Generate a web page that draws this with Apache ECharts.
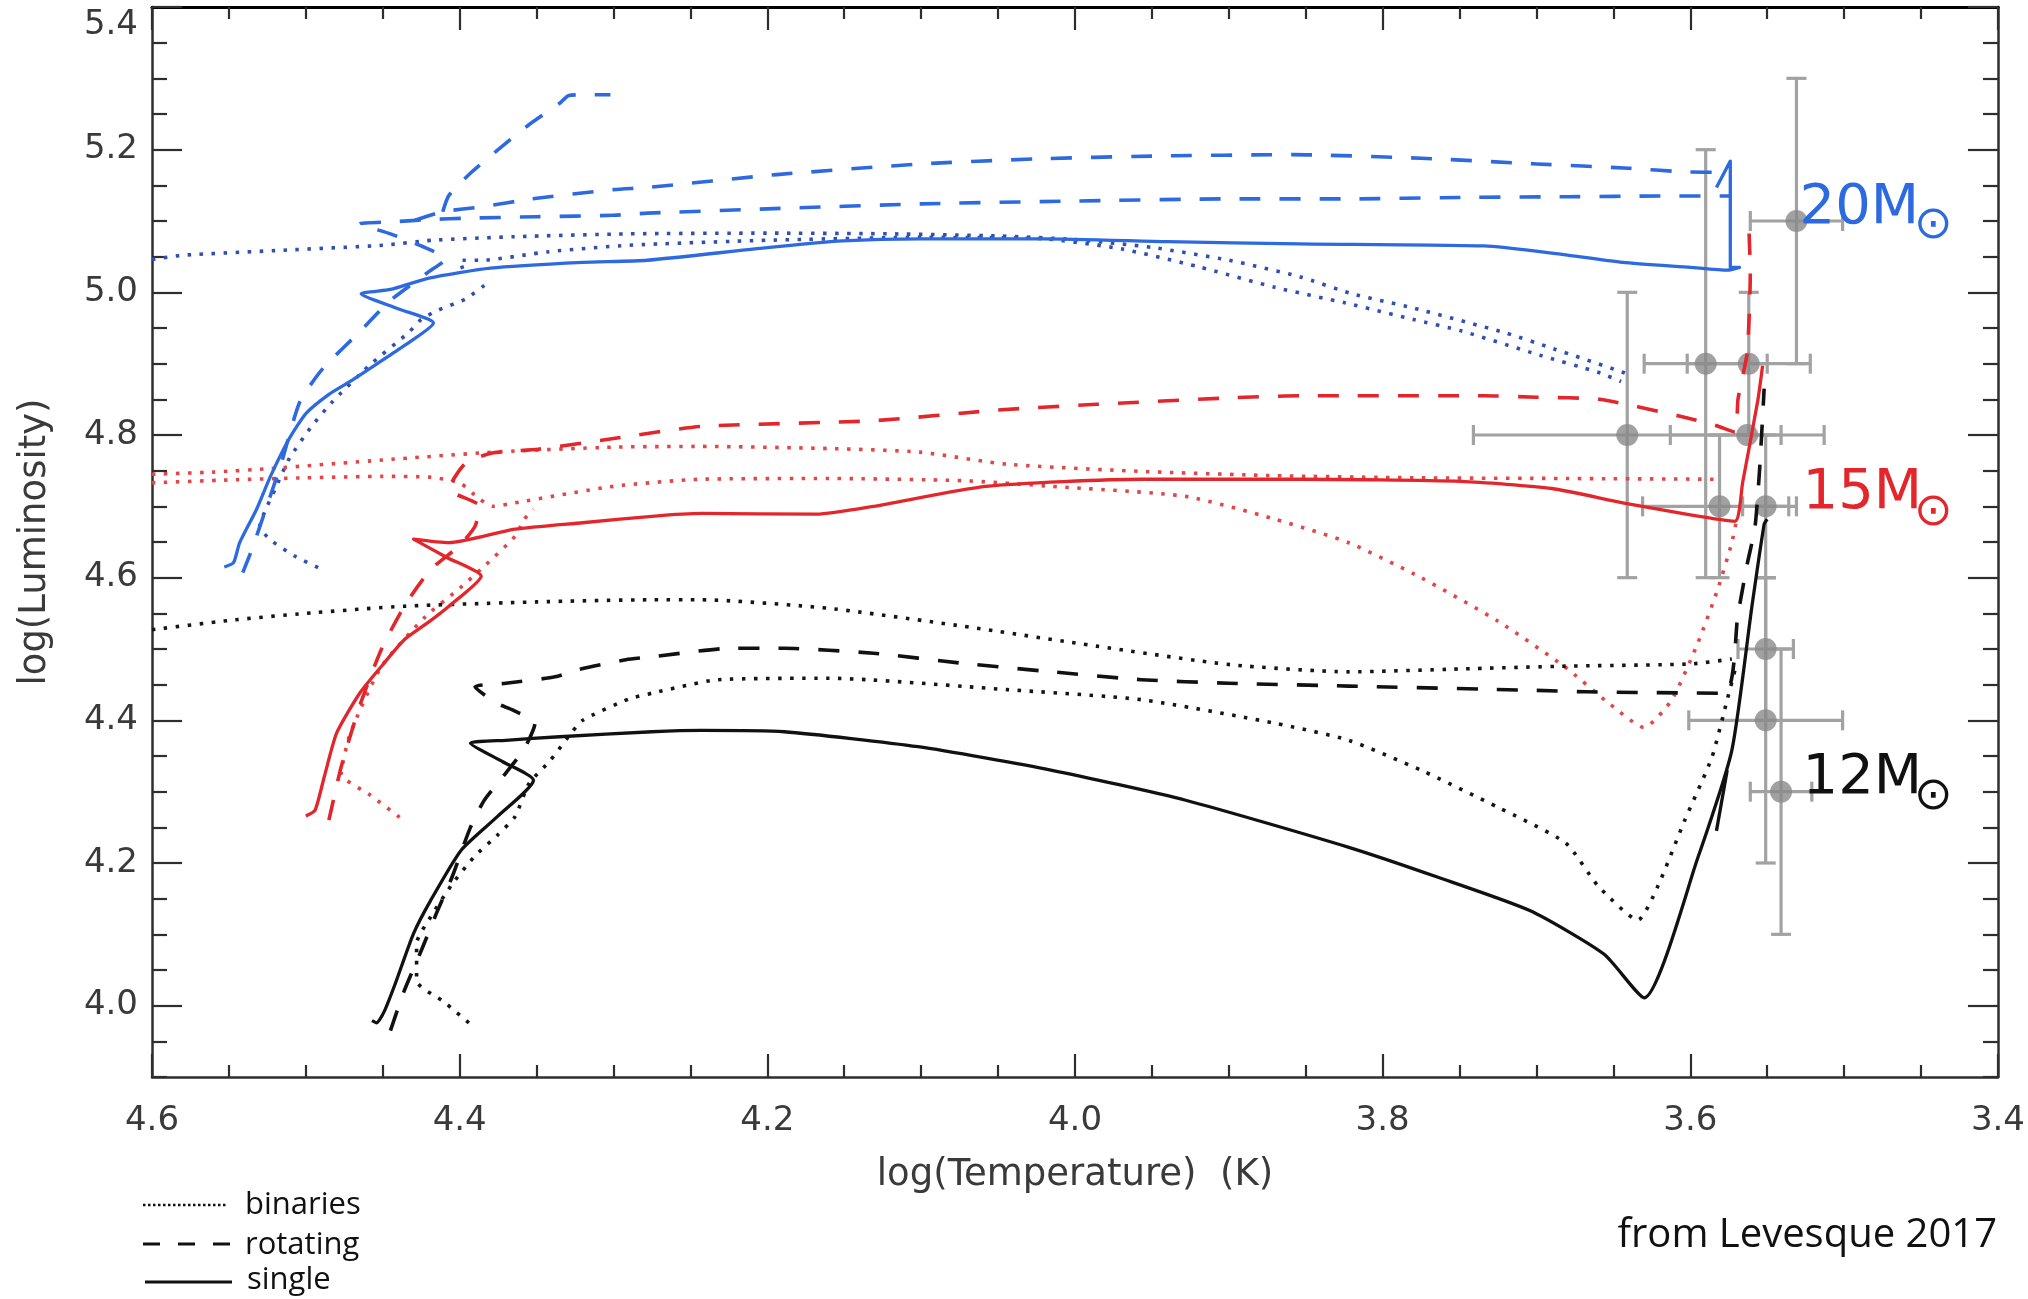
<!DOCTYPE html>
<html>
<head>
<meta charset="utf-8">
<title>HR diagram – 12, 15, 20 solar mass tracks</title>
<script src="https://cdn.jsdelivr.net/npm/echarts@6/dist/echarts.min.js"></script>
<style>
  html, body { margin: 0; padding: 0; background: #ffffff; }
  #chart { width: 2028px; height: 1299px; }
</style>
</head>
<body>
<div id="chart"></div>
<script>
// ---------- axis ticks ----------
const xMajorTicks = [3.4, 3.6, 3.8, 4.0, 4.2, 4.4, 4.6];
const yMajorTicks = [4.0, 4.2, 4.4, 4.6, 4.8, 5.0, 5.2, 5.4];

// ---------- evolutionary tracks: [log T, log L] ----------
// 20 Msun
const single20 = [[4.553,4.615],[4.547,4.621],[4.543,4.649],[4.532,4.696],[4.523,4.742],[4.511,4.794],[4.500,4.830],[4.485,4.857],[4.472,4.874],[4.455,4.898],[4.439,4.921],[4.417,4.957],[4.440,4.977],[4.464,4.998],[4.445,5.004],[4.420,5.020],[4.380,5.034],[4.320,5.042],[4.278,5.045],[4.203,5.062],[4.151,5.072],[4.100,5.075],[4.020,5.075],[3.940,5.071],[3.854,5.068],[3.734,5.065],[3.690,5.055],[3.644,5.042],[3.600,5.035],[3.576,5.031],[3.568,5.035],[3.574,5.035],[3.574,5.184],[3.583,5.147]];
const rotating20a = [[4.541,4.607],[4.535,4.640],[4.527,4.690],[4.516,4.760],[4.504,4.846],[4.489,4.893],[4.463,4.949],[4.446,4.987],[4.420,5.029],[4.409,5.047],[4.425,5.065],[4.445,5.082],[4.465,5.096],[4.442,5.099],[4.420,5.102],[4.394,5.104],[4.350,5.106],[4.300,5.108],[4.278,5.111],[4.200,5.117],[4.100,5.124],[4.000,5.128],[3.900,5.131],[3.822,5.131],[3.750,5.133],[3.680,5.134],[3.620,5.135],[3.574,5.135]];
const rotating20b = [[4.429,5.101],[4.411,5.113],[4.385,5.120],[4.353,5.131],[4.300,5.144],[4.278,5.147],[4.194,5.165],[4.100,5.180],[4.026,5.187],[3.950,5.191],[3.858,5.193],[3.775,5.188],[3.700,5.180],[3.640,5.174],[3.605,5.169],[3.574,5.168]];
const rotating20c = [[4.411,5.113],[4.407,5.136],[4.392,5.169],[4.375,5.200],[4.355,5.235],[4.335,5.265],[4.329,5.276],[4.318,5.277],[4.302,5.277]];
const binary20ms = [[4.492,4.614],[4.507,4.630],[4.523,4.653],[4.530,4.672],[4.526,4.696],[4.520,4.724],[4.511,4.766],[4.497,4.810],[4.483,4.846],[4.459,4.897],[4.433,4.944],[4.425,4.962],[4.414,4.975],[4.396,4.991],[4.382,5.013]];
const binary20a = [[4.600,5.046],[4.580,5.052],[4.515,5.059],[4.450,5.066],[4.418,5.073],[4.364,5.078],[4.290,5.082],[4.200,5.083],[4.120,5.082],[4.050,5.079],[4.000,5.074],[3.950,5.063],[3.900,5.045],[3.854,5.022],[3.820,4.998],[3.780,4.978],[3.720,4.943],[3.689,4.921],[3.644,4.888],[3.638,4.882]];
const binary20b = [[4.398,5.033],[4.400,5.045],[4.386,5.045],[4.342,5.057],[4.290,5.066],[4.200,5.073],[4.100,5.077],[4.020,5.075],[3.970,5.061],[3.920,5.036],[3.870,5.007],[3.824,4.985],[3.780,4.962],[3.749,4.946],[3.698,4.912],[3.660,4.888],[3.645,4.875]];

// 15 Msun
const single15 = [[4.500,4.266],[4.494,4.274],[4.488,4.321],[4.480,4.382],[4.465,4.438],[4.450,4.478],[4.436,4.513],[4.420,4.538],[4.407,4.560],[4.386,4.602],[4.408,4.628],[4.430,4.654],[4.407,4.649],[4.364,4.668],[4.320,4.677],[4.275,4.686],[4.243,4.690],[4.168,4.689],[4.131,4.700],[4.058,4.728],[3.957,4.738],[3.854,4.738],[3.749,4.735],[3.690,4.725],[3.644,4.705],[3.600,4.688],[3.571,4.679],[3.566,4.733],[3.556,4.850],[3.553,4.897]];
const rotating15 = [[4.485,4.260],[4.477,4.335],[4.465,4.420],[4.451,4.499],[4.436,4.560],[4.419,4.611],[4.400,4.645],[4.390,4.672],[4.387,4.700],[4.407,4.724],[4.396,4.761],[4.378,4.775],[4.349,4.780],[4.300,4.795],[4.243,4.812],[4.131,4.820],[4.050,4.835],[3.986,4.843],[3.900,4.852],[3.854,4.855],[3.734,4.855],[3.700,4.853],[3.659,4.850],[3.608,4.827],[3.583,4.813],[3.571,4.804],[3.569,4.850],[3.563,4.916],[3.561,5.028],[3.562,5.094]];
const binary15ms = [[4.439,4.264],[4.458,4.295],[4.477,4.325],[4.471,4.382],[4.451,4.475],[4.422,4.546],[4.400,4.585],[4.384,4.616],[4.364,4.658],[4.358,4.682],[4.352,4.696]];
const binary15a = [[4.600,4.745],[4.560,4.748],[4.523,4.753],[4.450,4.765],[4.378,4.776],[4.300,4.783],[4.243,4.784],[4.160,4.781],[4.101,4.776],[4.044,4.759],[3.957,4.749],[3.870,4.743],[3.780,4.740],[3.680,4.739],[3.581,4.738]];
const binary15b = [[4.600,4.733],[4.550,4.737],[4.500,4.740],[4.450,4.742],[4.420,4.741],[4.400,4.733],[4.387,4.710],[4.378,4.700],[4.364,4.705],[4.300,4.728],[4.243,4.738],[4.160,4.739],[4.073,4.736],[4.015,4.728],[3.928,4.714],[3.870,4.682],[3.822,4.649],[3.775,4.600],[3.725,4.539],[3.681,4.474],[3.653,4.424],[3.630,4.390],[3.612,4.429],[3.595,4.509],[3.582,4.585],[3.573,4.649],[3.570,4.680]];

// 12 Msun
const single12 = [[4.457,3.979],[4.454,3.976],[4.449,3.992],[4.442,4.030],[4.430,4.101],[4.419,4.147],[4.399,4.218],[4.375,4.266],[4.352,4.316],[4.372,4.342],[4.393,4.368],[4.370,4.372],[4.335,4.377],[4.275,4.384],[4.243,4.386],[4.189,4.384],[4.102,4.363],[4.015,4.330],[3.928,4.288],[3.822,4.222],[3.764,4.180],[3.704,4.133],[3.656,4.072],[3.630,4.011],[3.595,4.208],[3.573,4.358],[3.560,4.559],[3.552,4.675],[3.550,4.682]];
const single12b = [[3.583,4.245],[3.576,4.330]];
const rotating12 = [[4.445,3.965],[4.436,4.021],[4.425,4.077],[4.415,4.130],[4.405,4.180],[4.393,4.250],[4.384,4.288],[4.370,4.326],[4.358,4.360],[4.351,4.396],[4.365,4.414],[4.376,4.424],[4.390,4.447],[4.370,4.452],[4.338,4.461],[4.323,4.471],[4.292,4.485],[4.275,4.489],[4.224,4.501],[4.189,4.501],[4.131,4.494],[4.073,4.480],[4.015,4.468],[3.957,4.457],[3.900,4.452],[3.822,4.448],[3.700,4.442],[3.668,4.440],[3.578,4.438],[3.569,4.549],[3.563,4.619],[3.558,4.670],[3.555,4.750],[3.552,4.865]];
const binary12a = [[4.600,4.527],[4.550,4.540],[4.500,4.550],[4.436,4.560],[4.350,4.566],[4.275,4.569],[4.243,4.569],[4.160,4.557],[4.073,4.532],[3.986,4.504],[3.899,4.478],[3.822,4.468],[3.750,4.472],[3.680,4.476],[3.600,4.479],[3.573,4.486]];
const binary12b = [[4.394,3.976],[4.410,4.005],[4.428,4.035],[4.428,4.087],[4.419,4.124],[4.405,4.170],[4.390,4.210],[4.375,4.240],[4.364,4.265],[4.355,4.311],[4.341,4.344],[4.330,4.375],[4.320,4.400],[4.290,4.430],[4.275,4.438],[4.232,4.457],[4.160,4.459],[4.044,4.443],[3.957,4.429],[3.870,4.396],[3.822,4.372],[3.775,4.330],[3.725,4.278],[3.681,4.228],[3.660,4.168],[3.634,4.120],[3.621,4.168],[3.604,4.258],[3.586,4.348],[3.576,4.429],[3.571,4.470]];

// ---------- observed red supergiants ----------
const obsLogT = [3.531, 3.590, 3.562, 3.641, 3.563, 3.581, 3.551, 3.551, 3.551, 3.541];
const obsLogL = [5.10, 4.90, 4.90, 4.80, 4.80, 4.70, 4.70, 4.50, 4.40, 4.30];
const obsErrT = [0.03, 0.04, 0.04, 0.10, 0.05, 0.05, 0.015, 0.018, 0.05, 0.02];
const obsErrL = [0.20, 0.30, 0.10, 0.20, 0.00, 0.10, 0.10, 0.10, 0.20, 0.20];

// ---------- mass labels ----------
const massLabels = ['20M', '15M', '12M'];
const massLabelT = [3.529, 3.527, 3.527];
const massLabelL = [5.117, 4.718, 4.318];
const sunSymbolT = 3.442;
const sunSymbolL = [5.093, 4.691, 4.292];

// ---------- styling ----------
const BLUE = '#2d6ae0', RED = '#e3262c', BLACK = '#111111';
const BLUE_DOT = '#3050b0', RED_DOT = '#e24646', BLACK_DOT = '#151515';
const massColors = [BLUE, RED, BLACK];
const LINE = {
  single:   { type: 'solid', width: 3.3 },
  rotating: { type: [21, 19], width: 3.6 },
  binaries: { type: [3.5, 8.5], width: 3.6 }
};
const TICK_FONT = 'DejaVu Sans';

function minorTicks(lo, hi, step, majors) {
  const out = [];
  const n = Math.round((hi - lo) / step);
  for (let i = 0; i <= n; i++) {
    const v = Math.round((lo + i * step) * 100) / 100;
    if (!majors.some(m => Math.abs(m - v) < 1e-6)) out.push(v);
  }
  return out;
}
const xMinorTicks = minorTicks(3.4, 4.6, 0.05, xMajorTicks);
const yMinorTicks = minorTicks(3.9, 5.4, 0.05, yMajorTicks);

function track(name, data, color, kind) {
  return {
    name: name, type: 'line', data: data,
    xAxisIndex: 0, yAxisIndex: 0,
    showSymbol: false, symbol: 'none', smooth: 0.2, z: 3, silent: true,
    lineStyle: { color: color, width: LINE[kind].width, type: LINE[kind].type, cap: 'butt', join: 'round' }
  };
}

function xAxisDef(position, ticks, len, isMajor) {
  const withLabels = isMajor && position === 'bottom';
  return {
    type: 'value', min: 3.4, max: 4.6, inverse: true, position: position,
    axisLine: { show: isMajor, onZero: false,
      lineStyle: { color: position === 'top' ? '#000' : '#2e2e2e', width: position === 'top' ? 3.2 : 2.5 } },
    axisTick: { show: true, inside: true, length: len, customValues: ticks,
      lineStyle: { color: '#2e2e2e', width: 2.2 } },
    axisLabel: withLabels ? {
      show: true, customValues: ticks, margin: 27,
      formatter: v => v.toFixed(1),
      fontFamily: TICK_FONT, fontSize: 34, color: '#3a3a3a'
    } : { show: false },
    splitLine: { show: false },
    name: withLabels ? 'log(Temperature)  (K)' : '',
    nameLocation: 'middle', nameGap: 80,
    nameTextStyle: { fontFamily: 'DejaVu Sans', fontSize: 37, color: '#3a3a3a' }
  };
}

function yAxisDef(position, ticks, len, isMajor) {
  const withLabels = isMajor && position === 'left';
  return {
    type: 'value', min: 3.9, max: 5.4, position: position,
    axisLine: { show: isMajor, onZero: false, lineStyle: { color: '#2e2e2e', width: 2.5 } },
    axisTick: { show: true, inside: true, length: len, customValues: ticks,
      lineStyle: { color: '#2e2e2e', width: 2.2 } },
    axisLabel: withLabels ? {
      show: true, customValues: ticks, margin: 14,
      formatter: v => {
        const s = v.toFixed(1);
        return Math.abs(v - 5.4) < 1e-6 ? '{top|' + s + '}' : s;
      },
      rich: { top: { padding: [37, 0, 0, 0], fontFamily: TICK_FONT, fontSize: 34, color: '#3a3a3a' } },
      fontFamily: TICK_FONT, fontSize: 34, color: '#3a3a3a'
    } : { show: false },
    splitLine: { show: false },
    name: withLabels ? 'log(Luminosity)' : '',
    nameLocation: 'middle', nameGap: 98, nameRotate: 90,
    nameTextStyle: { fontFamily: 'DejaVu Sans', fontSize: 37, color: '#3a3a3a' }
  };
}

// error bars drawn through the axes' own coordinate mapping
const obsData = obsLogT.map((t, i) => [t, obsLogL[i], obsErrT[i], obsErrL[i]]);
function renderErrorBar(params, api) {
  const t = api.value(0), l = api.value(1), et = api.value(2), el = api.value(3);
  const cap = 10;
  const st = { stroke: '#a2a2a2', lineWidth: 3.2 };
  const kids = [];
  if (et > 0) {
    const a = api.coord([t + et, l]), b = api.coord([t - et, l]);
    kids.push({ type: 'line', shape: { x1: a[0], y1: a[1], x2: b[0], y2: b[1] }, style: st });
    kids.push({ type: 'line', shape: { x1: a[0], y1: a[1] - cap, x2: a[0], y2: a[1] + cap }, style: st });
    kids.push({ type: 'line', shape: { x1: b[0], y1: b[1] - cap, x2: b[0], y2: b[1] + cap }, style: st });
  }
  if (el > 0) {
    const a = api.coord([t, l + el]), b = api.coord([t, l - el]);
    kids.push({ type: 'line', shape: { x1: a[0], y1: a[1], x2: b[0], y2: b[1] }, style: st });
    kids.push({ type: 'line', shape: { x1: a[0] - cap, y1: a[1], x2: a[0] + cap, y2: a[1] }, style: st });
    kids.push({ type: 'line', shape: { x1: b[0] - cap, y1: b[1], x2: b[0] + cap, y2: b[1] }, style: st });
  }
  return { type: 'group', children: kids };
}

const chart = echarts.init(document.getElementById('chart'), null, { renderer: 'canvas', width: 2028, height: 1299 });

chart.setOption({
  animation: false,
  backgroundColor: '#ffffff',
  grid: { left: 152, right: 29, top: 7, bottom: 222, containLabel: false },
  xAxis: [
    xAxisDef('bottom', xMajorTicks, 23, true),
    xAxisDef('bottom', xMinorTicks, 12, false),
    xAxisDef('top', xMajorTicks, 23, true),
    xAxisDef('top', xMinorTicks, 12, false)
  ],
  yAxis: [
    yAxisDef('left', yMajorTicks, 30, true),
    yAxisDef('left', yMinorTicks, 15, false),
    yAxisDef('right', yMajorTicks, 30, true),
    yAxisDef('right', yMinorTicks, 15, false)
  ],
  series: [
    { name: 'error bars', type: 'custom', data: obsData, renderItem: renderErrorBar,
      xAxisIndex: 0, yAxisIndex: 0, encode: { x: 0, y: 1 }, z: 1, silent: true },
    { name: 'red supergiants', type: 'scatter', data: obsData.map(d => [d[0], d[1]]),
      xAxisIndex: 0, yAxisIndex: 0, symbolSize: 22, z: 2, silent: true,
      itemStyle: { color: '#8a8a8a' } },

    track('20 binary MS', binary20ms, BLUE_DOT, 'binaries'),
    track('20 binary a', binary20a, BLUE_DOT, 'binaries'),
    track('20 binary b', binary20b, BLUE_DOT, 'binaries'),
    track('15 binary MS', binary15ms, RED_DOT, 'binaries'),
    track('15 binary a', binary15a, RED_DOT, 'binaries'),
    track('15 binary b', binary15b, RED_DOT, 'binaries'),
    track('12 binary a', binary12a, BLACK_DOT, 'binaries'),
    track('12 binary b', binary12b, BLACK_DOT, 'binaries'),

    track('20 rotating a', rotating20a, BLUE, 'rotating'),
    track('20 rotating b', rotating20b, BLUE, 'rotating'),
    track('20 rotating c', rotating20c, BLUE, 'rotating'),
    track('15 rotating', rotating15, RED, 'rotating'),
    track('12 rotating', rotating12, BLACK, 'rotating'),

    track('20 single', single20, BLUE, 'single'),
    track('15 single', single15, RED, 'single'),
    track('12 single', single12, BLACK, 'single'),
    track('12 single b', single12b, BLACK, 'single')
  ]
});

// mass labels placed at data coordinates, plus legend and credit
const labelGraphics = [];
massLabels.forEach((txt, i) => {
  const p = chart.convertToPixel({ xAxisIndex: 0, yAxisIndex: 0 }, [massLabelT[i], massLabelL[i]]);
  const q = chart.convertToPixel({ xAxisIndex: 0, yAxisIndex: 0 }, [sunSymbolT, sunSymbolL[i]]);
  labelGraphics.push({ type: 'text', x: p[0], y: p[1], z: 10,
    style: { text: txt, fontFamily: 'DejaVu Sans', fontSize: 56, fill: massColors[i], align: 'left', verticalAlign: 'middle' } });
  labelGraphics.push({ type: 'text', x: q[0], y: q[1], z: 10,
    style: { text: '\u2299', fontFamily: 'DejaVu Sans', fontSize: 46, fill: massColors[i], align: 'center', verticalAlign: 'middle' } });
});

const legendFont = 'Open Sans';
chart.setOption({
  graphic: labelGraphics.concat([
    { type: 'line', shape: { x1: 143, y1: 1205, x2: 226, y2: 1205 }, style: { stroke: '#111', lineWidth: 2.5, lineDash: [2.5, 2.5] } },
    { type: 'line', shape: { x1: 143, y1: 1244, x2: 230, y2: 1244 }, style: { stroke: '#111', lineWidth: 3, lineDash: [17, 18] } },
    { type: 'line', shape: { x1: 145, y1: 1282, x2: 232, y2: 1282 }, style: { stroke: '#111', lineWidth: 3 } },
    { type: 'text', x: 245, y: 1205, style: { text: 'binaries', fontFamily: legendFont, fontSize: 31, fill: '#111', align: 'left', verticalAlign: 'middle' } },
    { type: 'text', x: 245, y: 1245, style: { text: 'rotating', fontFamily: legendFont, fontSize: 31, fill: '#111', align: 'left', verticalAlign: 'middle' } },
    { type: 'text', x: 247, y: 1280, style: { text: 'single', fontFamily: legendFont, fontSize: 31, fill: '#111', align: 'left', verticalAlign: 'middle' } },
    { type: 'text', x: 1997, y: 1236, style: { text: 'from Levesque 2017', fontFamily: legendFont, fontSize: 40, fill: '#111', align: 'right', verticalAlign: 'middle' } }
  ])
});
</script>
</body>
</html>
